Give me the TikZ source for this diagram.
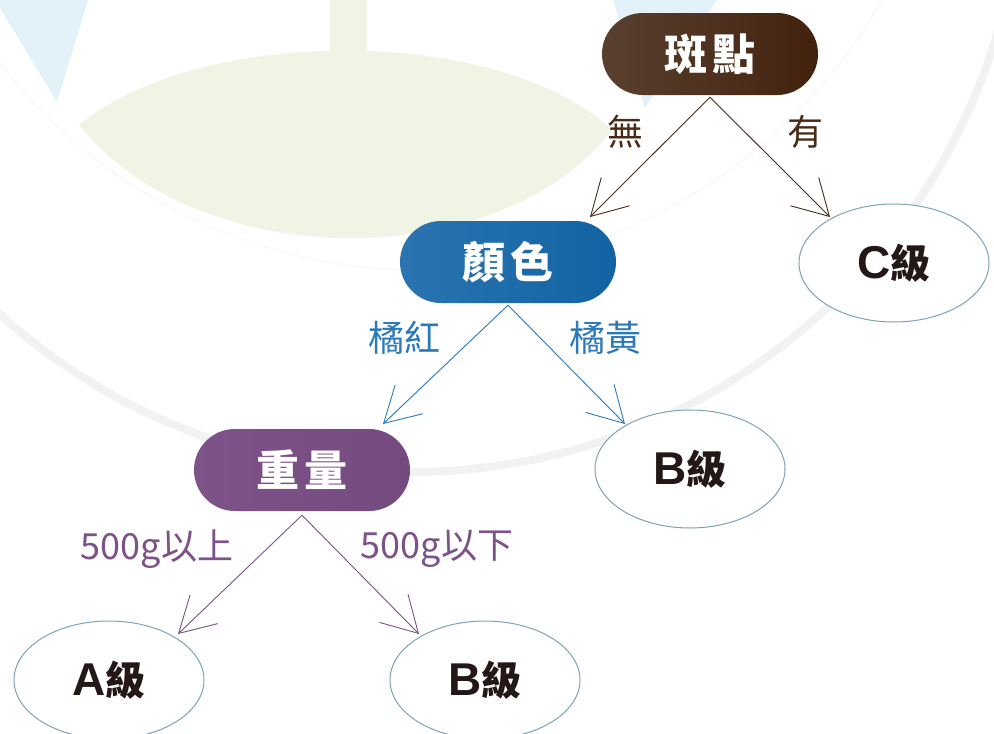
\documentclass[tikz,border=0pt]{standalone}
\usepackage{fontspec}
\setmainfont{Liberation Sans}
\newfontfamily\cjk{Noto Sans CJK TC}
\usetikzlibrary{arrows.meta,shapes.geometric}
\definecolor{brownA}{HTML}{5A4030}
\definecolor{brownB}{HTML}{42220D}
\definecolor{blueA}{HTML}{2A74B0}
\definecolor{blueB}{HTML}{1263A3}
\definecolor{purpA}{HTML}{7E5389}
\definecolor{purpB}{HTML}{744A7F}
\definecolor{lbrown}{HTML}{4A2B17}
\definecolor{lblue}{HTML}{2B79B9}
\definecolor{lpurp}{HTML}{7C5288}
\definecolor{ellc}{HTML}{7FA2B6}
\definecolor{gradetext}{HTML}{231815}
\definecolor{wmblue}{HTML}{E3F1F8}
\definecolor{wmgreen}{HTML}{F0F4E4}
\definecolor{wmgray}{HTML}{F2F2F2}
\tikzset{
  pill/.style={rounded corners=41pt, minimum width=216pt, minimum height=82pt,
    inner sep=0pt, text=white, font=\cjk\bfseries\fontsize{43}{43}\selectfont},
  grade/.style={ellipse, draw=ellc, line width=1pt, fill=white,
    minimum width=190pt, minimum height=118pt, inner sep=0pt,
    text=gradetext, font=\bfseries\fontsize{46}{46}\selectfont},
  lab/.style={inner sep=0pt, font=\cjk\fontsize{36}{36}\selectfont},
  arr/.style={line width=0.9pt, -{Straight Barb[length=35pt,width=40pt,line width=0.9pt]}}
}
\newcommand{\ji}{{\cjk\bfseries\fontsize{40}{40}\selectfont 級}}
\begin{document}
\begin{tikzpicture}[x=1pt,y=-1pt]
\useasboundingbox (0,0) rectangle (994,734);
\begin{scope}
  \clip (0,0) rectangle (994,734);
  \fill[white] (0,0) rectangle (994,734);
  % watermark shapes
  \fill[wmblue] (0,8) -- (0,0) -- (88,0) -- (57,102) -- cycle;
  \fill[wmblue] (613,0) -- (717,0) -- (645,108) -- cycle;
  \fill[wmgreen] (330,0) rectangle (367,56);
  \fill[wmgreen] (79,125) .. controls (200,25) and (500,25) .. (612,130)
     .. controls (500,275) and (200,275) .. (79,125) -- cycle;
  \draw[wmgray, line width=8pt] (410,-140) circle (612);
  \draw[wmgray!60, line width=1pt] (420,-260) circle (530);
\end{scope}
% nodes
\node[pill, left color=brownA, right color=brownB] (spot) at (710,54) {斑\hspace{5pt}點};
\node[pill, left color=blueA, right color=blueB] (color) at (508,262) {顏\hspace{5pt}色};
\node[pill, left color=purpA, right color=purpB] (weight) at (302,470) {重\hspace{5pt}量};
\node[grade] (gC) at (894,263) {C\ji};
\node[grade] (gB1) at (690,469) {B\ji};
\node[grade] (gA) at (109,680) {A\ji};
\node[grade] (gB2) at (485,680) {B\ji};
% arrow tips
\coordinate (t1) at (590,217);
\coordinate (t2) at (830,217);
\coordinate (t3) at (383,424);
\coordinate (t4) at (625,424);
\coordinate (t5) at (178,634);
\coordinate (t6) at (419,634);
% connectors
\draw[arr, draw=lbrown] ([yshift=-2pt]spot.south) -- (t1);
\draw[arr, draw=lbrown] ([yshift=-2pt]spot.south) -- (t2);
\draw[arr, draw=lblue] ([yshift=-2pt]color.south) -- (t3);
\draw[arr, draw=lblue] ([yshift=-2pt]color.south) -- (t4);
\draw[arr, draw=lpurp] ([yshift=-4pt]weight.south) -- (t5);
\draw[arr, draw=lpurp] ([yshift=-4pt]weight.south) -- (t6);
% labels
\node[lab, text=lbrown] (l1) at (625,132) {無};
\node[lab, text=lbrown] (l2) at (805,132) {有};
\node[lab, text=lblue] (l3) at (404,338) {橘紅};
\node[lab, text=lblue] (l4) at (605,338) {橘黃};
\node[lab, text=lpurp] (l5) at (157,549) {500g以上};
\node[lab, text=lpurp] (l6) at (437,549) {500g以下};
\end{tikzpicture}
\end{document}
